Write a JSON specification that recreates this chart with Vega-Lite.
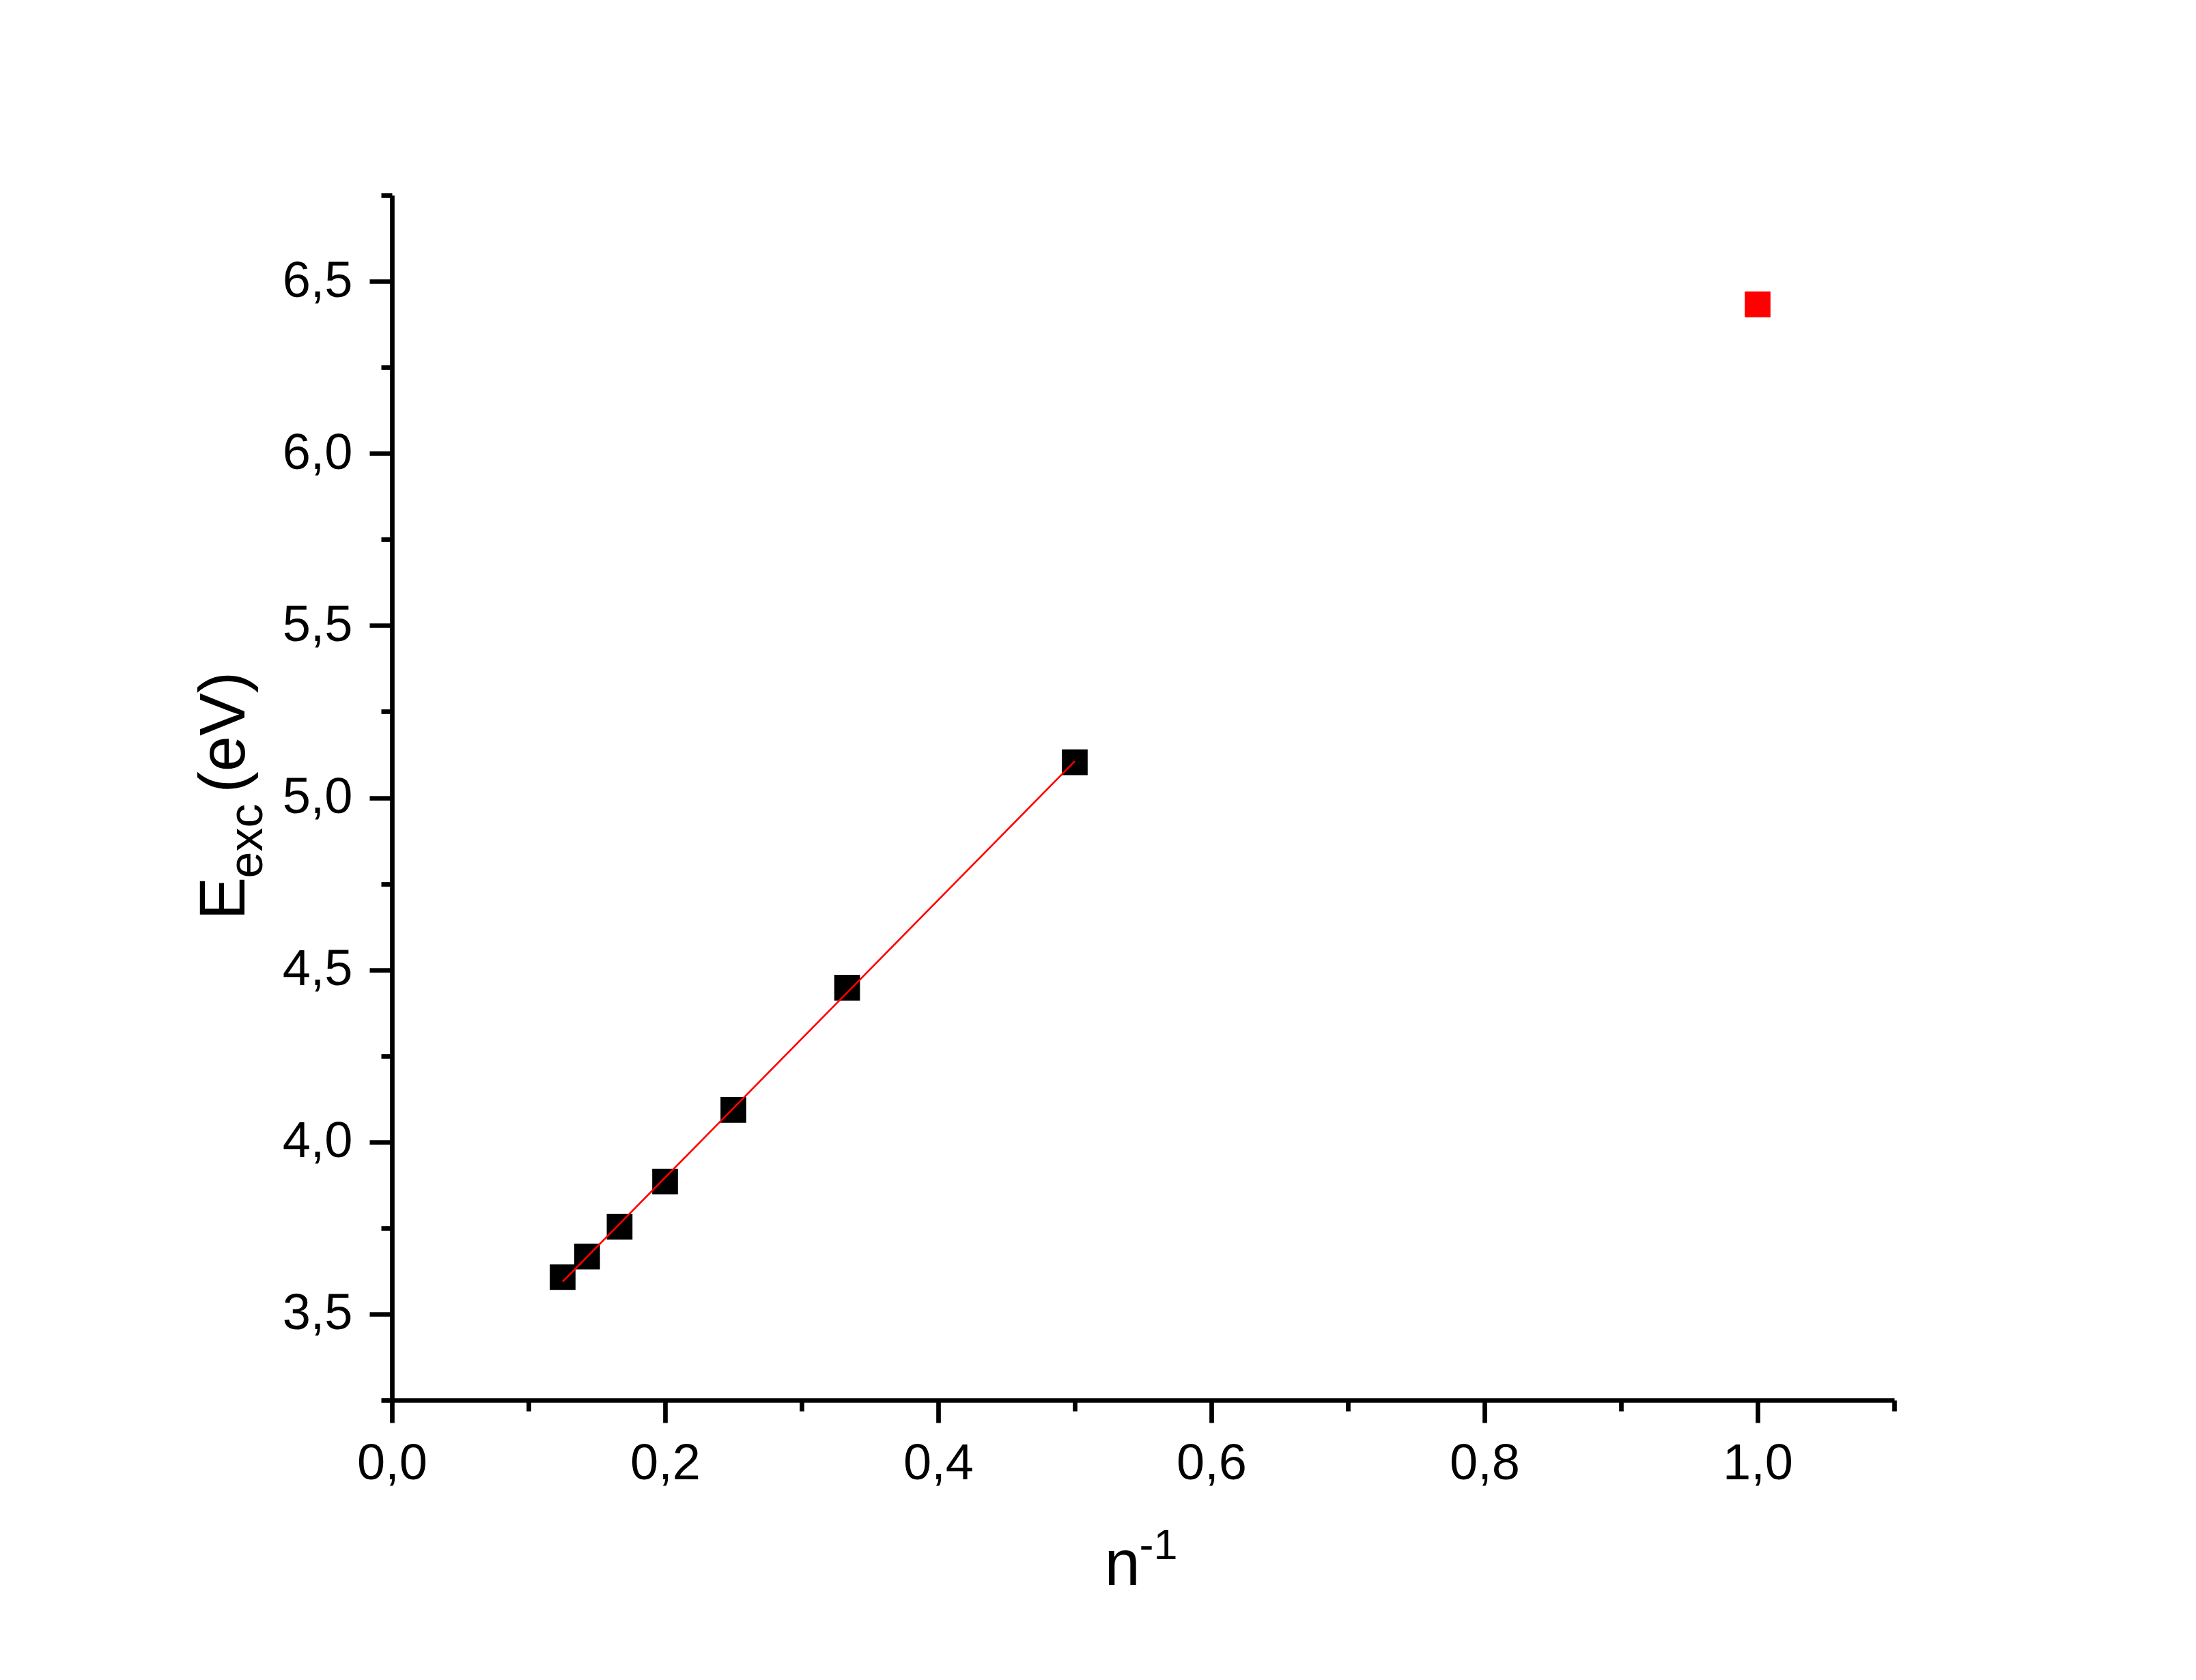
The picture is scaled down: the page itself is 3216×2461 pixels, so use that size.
{
  "$schema": "https://vega.github.io/schema/vega-lite/v6.json",
  "width": 2200,
  "height": 1765,
  "autosize": {"type": "none"},
  "padding": {"left": 574, "top": 286, "right": 442, "bottom": 410},
  "background": "white",
  "config": {
    "view": {"stroke": null},
    "axis": {
      "grid": false,
      "labelFont": "Liberation Sans",
      "titleFont": "Liberation Sans",
      "labelColor": "#000000",
      "titleColor": "#000000",
      "domainColor": "#000000",
      "tickColor": "#000000",
      "titleFontWeight": "normal",
      "labelFontSize": 74,
      "titleFontSize": 94,
      "domainWidth": 6.7,
      "tickWidth": 6.7,
      "labelOverlap": false,
      "labelFlush": false,
      "labelBound": false,
      "titleAlign": "left",
      "titleBaseline": "alphabetic"
    }
  },
  "datasets": {
    "levels": [
      {"inv_n": 0.125, "e_exc": 3.607},
      {"inv_n": 0.1429, "e_exc": 3.667},
      {"inv_n": 0.1667, "e_exc": 3.754},
      {"inv_n": 0.2, "e_exc": 3.885},
      {"inv_n": 0.25, "e_exc": 4.093},
      {"inv_n": 0.3333, "e_exc": 4.448},
      {"inv_n": 0.5, "e_exc": 5.103}
    ],
    "limit": [
      {"inv_n": 1.0, "e_exc": 6.433}
    ],
    "fit": [
      {"inv_n": 0.125, "e_exc": 3.594},
      {"inv_n": 0.5, "e_exc": 5.106}
    ]
  },
  "layer": [
    {
      "data": {"name": "levels"},
      "mark": {"type": "square", "size": 1420, "color": "#000000", "opacity": 1},
      "encoding": {
        "x": {
          "field": "inv_n",
          "type": "quantitative",
          "scale": {"domain": [0, 1.1], "nice": false, "zero": false},
          "axis": {
            "orient": "bottom",
            "values": [0, 0.1, 0.2, 0.3, 0.4, 0.5, 0.6, 0.7, 0.8, 0.9, 1.0, 1.1],
            "labelExpr": "round(datum.value * 10) % 2 == 0 ? replace(format(datum.value, '.1f'), '.', ',') : ''",
            "tickSize": {"condition": {"test": "round(datum.value * 10) % 2 == 0", "value": 33}, "value": 16},
            "labelPadding": 24,
            "title": "n",
            "titleX": 1043,
            "titleY": 270
          }
        },
        "y": {
          "field": "e_exc",
          "type": "quantitative",
          "scale": {"domain": [3.25, 6.75], "nice": false, "zero": false},
          "axis": {
            "orient": "left",
            "values": [3.25, 3.5, 3.75, 4.0, 4.25, 4.5, 4.75, 5.0, 5.25, 5.5, 5.75, 6.0, 6.25, 6.5, 6.75],
            "labelExpr": "round(datum.value * 4) % 2 == 0 ? replace(format(datum.value, '.1f'), '.', ',') : ''",
            "tickSize": {"condition": {"test": "round(datum.value * 4) % 2 == 0", "value": 33}, "value": 16},
            "labelPadding": 25,
            "title": "E",
            "titleAngle": 270,
            "titleX": -217,
            "titleY": 1061
          }
        }
      }
    },
    {
      "data": {"name": "limit"},
      "mark": {"type": "square", "size": 1420, "color": "#ff0000", "opacity": 1},
      "encoding": {
        "x": {
          "field": "inv_n",
          "type": "quantitative",
          "scale": {"domain": [0, 1.1], "nice": false, "zero": false},
          "axis": {
            "orient": "bottom",
            "labels": false,
            "ticks": false,
            "domain": false,
            "title": "-1",
            "titleFontSize": 63,
            "titleX": 1094,
            "titleY": 232
          }
        },
        "y": {
          "field": "e_exc",
          "type": "quantitative",
          "scale": {"domain": [3.25, 6.75], "nice": false, "zero": false},
          "axis": {
            "orient": "left",
            "labels": false,
            "ticks": false,
            "domain": false,
            "title": "exc",
            "titleFontSize": 70,
            "titleAngle": 270,
            "titleX": -191,
            "titleY": 1000
          }
        }
      }
    },
    {
      "data": {"name": "fit"},
      "mark": {"type": "line", "color": "#ff0000", "strokeWidth": 2.6},
      "encoding": {
        "x": {
          "field": "inv_n",
          "type": "quantitative",
          "scale": {"domain": [0, 1.1], "nice": false, "zero": false},
          "axis": null
        },
        "y": {
          "field": "e_exc",
          "type": "quantitative",
          "scale": {"domain": [3.25, 6.75], "nice": false, "zero": false},
          "axis": {
            "orient": "left",
            "labels": false,
            "ticks": false,
            "domain": false,
            "title": "(eV)",
            "titleAngle": 270,
            "titleX": -217,
            "titleY": 875
          }
        }
      }
    }
  ],
  "resolve": {"axis": {"x": "independent", "y": "independent"}}
}
